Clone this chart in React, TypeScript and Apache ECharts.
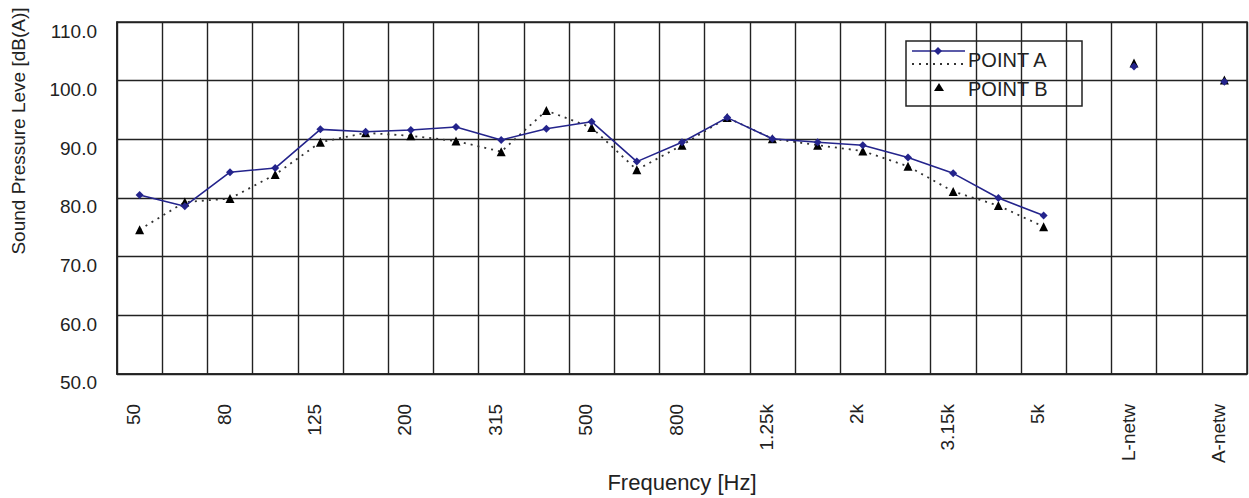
import React, { useEffect, useRef } from 'react';
import * as echarts from 'echarts';

const categories = ['50', '63', '80', '100', '125', '160', '200', '250', '315', '400', '500', '630', '800', '1k', '1.25k', '1.6k', '2k', '2.5k', '3.15k', '4k', '5k', ' ', 'L-netw', '  ', 'A-netw'];

const pointA = [80.5, 78.6, 84.4, 85.1, 91.7, 91.3, 91.6, 92.1, 89.9, 91.8, 93.0, 86.2, 89.5, 93.7, 90.1, 89.5, 89.0, 86.9, 84.2, 80.0, 77.0, null, 102.4, null, 99.8];

const pointB = [74.6, 79.3, 79.9, 84.0, 89.5, 91.1, 90.6, 89.7, 87.9, 94.9, 92.0, 84.8, 89.0, 93.7, 90.1, 89.0, 88.0, 85.4, 81.1, 78.7, 75.1, null, 103.0, null, 100.1];

const yMin = 50;
const yMax = 110;
const yStep = 10;

const seriesNames = ['POINT A', 'POINT B'];
const xAxisTitle = 'Frequency [Hz]';
const yAxisTitle = 'Sound Pressure Leve [dB(A)]';

export default function App() {
  const ref = useRef<HTMLDivElement>(null);
  useEffect(() => {
    if (!ref.current) return;
    const chart = echarts.init(ref.current, null, { renderer: 'svg' });
    const font = '"Liberation Sans", Arial, sans-serif';
    const navy = '#24248c';
    const ink = '#222';
    chart.setOption({
      animation: false,
      backgroundColor: '#fff',
      textStyle: { fontFamily: font },
      grid: {
        left: 117, right: 2, top: 22, bottom: 122,
        show: true, borderColor: ink, borderWidth: 1.5, backgroundColor: 'transparent',
      },
      xAxis: {
        type: 'category',
        data: categories,
        boundaryGap: true,
        axisLine: { show: true, lineStyle: { color: ink, width: 1.5 } },
        axisTick: { show: false },
        axisLabel: {
          interval: 1, rotate: 90, margin: 30, fontSize: 19, color: ink,
          fontFamily: font, verticalAlign: 'bottom', lineHeight: 12,
        },
        splitLine: { show: true, interval: 0, lineStyle: { color: ink, width: 1.4 } },
        name: xAxisTitle,
        nameLocation: 'middle',
        nameGap: 95,
        nameTextStyle: { fontSize: 22, color: ink, fontFamily: font },
      },
      yAxis: {
        type: 'value',
        min: yMin, max: yMax, interval: yStep,
        axisLine: { show: true, lineStyle: { color: ink, width: 1.5 } },
        axisTick: { show: false },
        axisLabel: {
          formatter: (v: number) => v.toFixed(1),
          fontSize: 19, color: ink, fontFamily: font, margin: 20,
          verticalAlign: 'top', lineHeight: 18,
        },
        splitLine: { show: true, lineStyle: { color: ink, width: 1.4 } },
      },
      series: [
        {
          name: seriesNames[1],
          type: 'line',
          data: pointB,
          symbol: 'triangle',
          symbolSize: 9,
          showAllSymbol: true,
          connectNulls: false,
          z: 2,
          lineStyle: { color: '#333', width: 1.8, type: [2, 5] },
          itemStyle: { color: '#000' },
        },
        {
          name: seriesNames[0],
          type: 'line',
          data: pointA,
          symbol: 'diamond',
          symbolSize: 8,
          showAllSymbol: true,
          connectNulls: false,
          z: 3,
          lineStyle: { color: navy, width: 1.6 },
          itemStyle: { color: navy },
        },
      ],
      graphic: [
        {
          type: 'text',
          x: 18, y: 131, rotation: Math.PI / 2,
          style: {
            text: yAxisTitle, fontSize: 19, fill: ink, fontFamily: font,
            textAlign: 'center', textVerticalAlign: 'middle',
          },
        },
        {
          type: 'group',
          z: 100,
          children: [
            {
              type: 'rect',
              shape: { x: 906, y: 41, width: 176, height: 65 },
              style: { fill: '#fff', stroke: ink, lineWidth: 1.5 },
            },
            {
              type: 'line',
              shape: { x1: 912, y1: 51, x2: 965, y2: 51 },
              style: { stroke: navy, lineWidth: 1.6 },
            },
            {
              type: 'polygon',
              shape: { points: [[938, 47], [942, 51], [938, 55], [934, 51]] },
              style: { fill: navy },
            },
            {
              type: 'line',
              shape: { x1: 912, y1: 64, x2: 965, y2: 64 },
              style: { stroke: '#333', lineWidth: 1.8, lineDash: [2, 5] },
            },
            {
              type: 'polygon',
              shape: { points: [[939, 83], [944, 91], [934, 91]] },
              style: { fill: '#000' },
            },
            {
              type: 'text',
              x: 968, y: 60,
              style: { text: seriesNames[0], fontSize: 20, fill: ink, fontFamily: font, textAlign: 'left', textVerticalAlign: 'middle' },
            },
            {
              type: 'text',
              x: 968, y: 89,
              style: { text: seriesNames[1], fontSize: 20, fill: ink, fontFamily: font, textAlign: 'left', textVerticalAlign: 'middle' },
            },
          ],
        },
      ],
    });
    return () => chart.dispose();
  }, []);
  return <div ref={ref} style={{ position: 'fixed', left: 0, top: 0, width: 1249, height: 498 }} />;
}
